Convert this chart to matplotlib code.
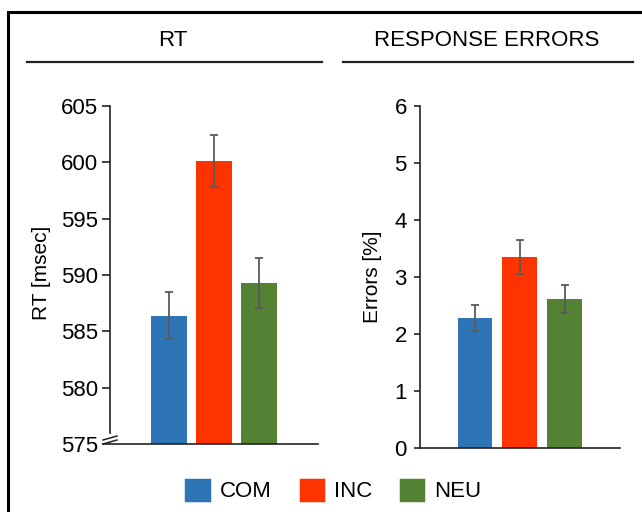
import matplotlib
matplotlib.use('Agg')
import matplotlib.pyplot as plt
from matplotlib.patches import Patch
from matplotlib.lines import Line2D

plt.rcParams['font.family'] = ['Liberation Sans', 'DejaVu Sans']

# data
conditions = ['COM', 'INC', 'NEU']
colors = ['#2E75B6', '#FF3300', '#548235']
rt_mean = [586.4, 600.1, 589.3]
rt_err = [2.1, 2.3, 2.2]
err_mean = [2.28, 3.34, 2.61]
err_sem = [0.23, 0.30, 0.24]
rt_ticks = [575, 580, 585, 590, 595, 600, 605]
err_ticks = [0, 1, 2, 3, 4, 5, 6]

W, H = 642, 512
fig = plt.figure(figsize=(W / 100, H / 100), dpi=100)


def fx(px):
    return px / W


def fy(py):
    return 1 - py / H


ax1 = fig.add_axes([fx(110), fy(444), fx(318 - 110), fy(106) - fy(444)])
ax2 = fig.add_axes([fx(420), fy(447.7), fx(620 - 420), fy(105.7) - fy(447.7)])

x = [0, 1, 2]
ekw = dict(ecolor='#5a5a5a', elinewidth=1.3, capsize=3, capthick=1.3)

ax1.bar(x, [v - 575 for v in rt_mean], bottom=575, width=0.8, color=colors,
        yerr=rt_err, error_kw=ekw)
ax1.set_ylim(575, 605)
ax1.set_xlim(-1.31, 3.31)
ax1.set_yticks(rt_ticks)

ax2.bar(x, err_mean, width=0.78, color=colors, yerr=err_sem, error_kw=ekw)
ax2.set_ylim(0, 6)
ax2.set_xlim(-1.23, 3.24)
ax2.set_yticks(err_ticks)

for ax in (ax1, ax2):
    ax.spines['top'].set_visible(False)
    ax.spines['right'].set_visible(False)
    for s in ('left', 'bottom'):
        ax.spines[s].set_linewidth(1.2)
        ax.spines[s].set_color('#222222')
    ax.set_xticks([])
    ax.tick_params(axis='y', direction='out', width=1.2, labelsize=16,
                   color='#222222')
ax1.tick_params(axis='y', length=6, pad=2.5)
ax2.tick_params(axis='y', length=4.5, pad=5)

# y labels
fig.text(fx(42), fy(273), 'RT [msec]', rotation=90, ha='center', va='center', fontsize=15)
fig.text(fx(373), fy(277), 'Errors [%]', rotation=90, ha='center', va='center', fontsize=15)

# broken-axis mark on the RT axis
ax1.spines['left'].set_bounds(576.0, 605)
brk = dict(color='#222222', lw=1.1, transform=fig.transFigure, clip_on=False)
fig.add_artist(Line2D([fx(103), fx(117)], [fy(440), fy(436)], **brk))
fig.add_artist(Line2D([fx(103), fx(117)], [fy(444), fy(440)], **brk))

# panel titles and rules
fig.text(fx(173), fy(46), 'RT', ha='center', va='baseline', fontsize=16)
fig.text(fx(487), fy(46), 'RESPONSE ERRORS', ha='center', va='baseline', fontsize=16)
fig.add_artist(Line2D([fx(27), fx(322)], [fy(62), fy(62)], color='#222222', lw=1.6))
fig.add_artist(Line2D([fx(343), fx(633)], [fy(62), fy(62)], color='#222222', lw=1.6))

# outer frame (open to the right and bottom)
fig.add_artist(Line2D([fx(8), fx(8), fx(642)], [fy(512), fy(12), fy(12)],
                      color='black', lw=2.2, solid_joinstyle='miter'))

handles = [Patch(facecolor=c, edgecolor=c, linewidth=2.5, joinstyle='round')
           for c in colors]
fig.legend(handles, conditions, loc='center', bbox_to_anchor=(fx(334), fy(491)),
           ncol=3, frameon=False, fontsize=16, handlelength=1.0, handleheight=1.0,
           handletextpad=0.5, columnspacing=1.3)

plt.savefig('out.png', dpi=100)
